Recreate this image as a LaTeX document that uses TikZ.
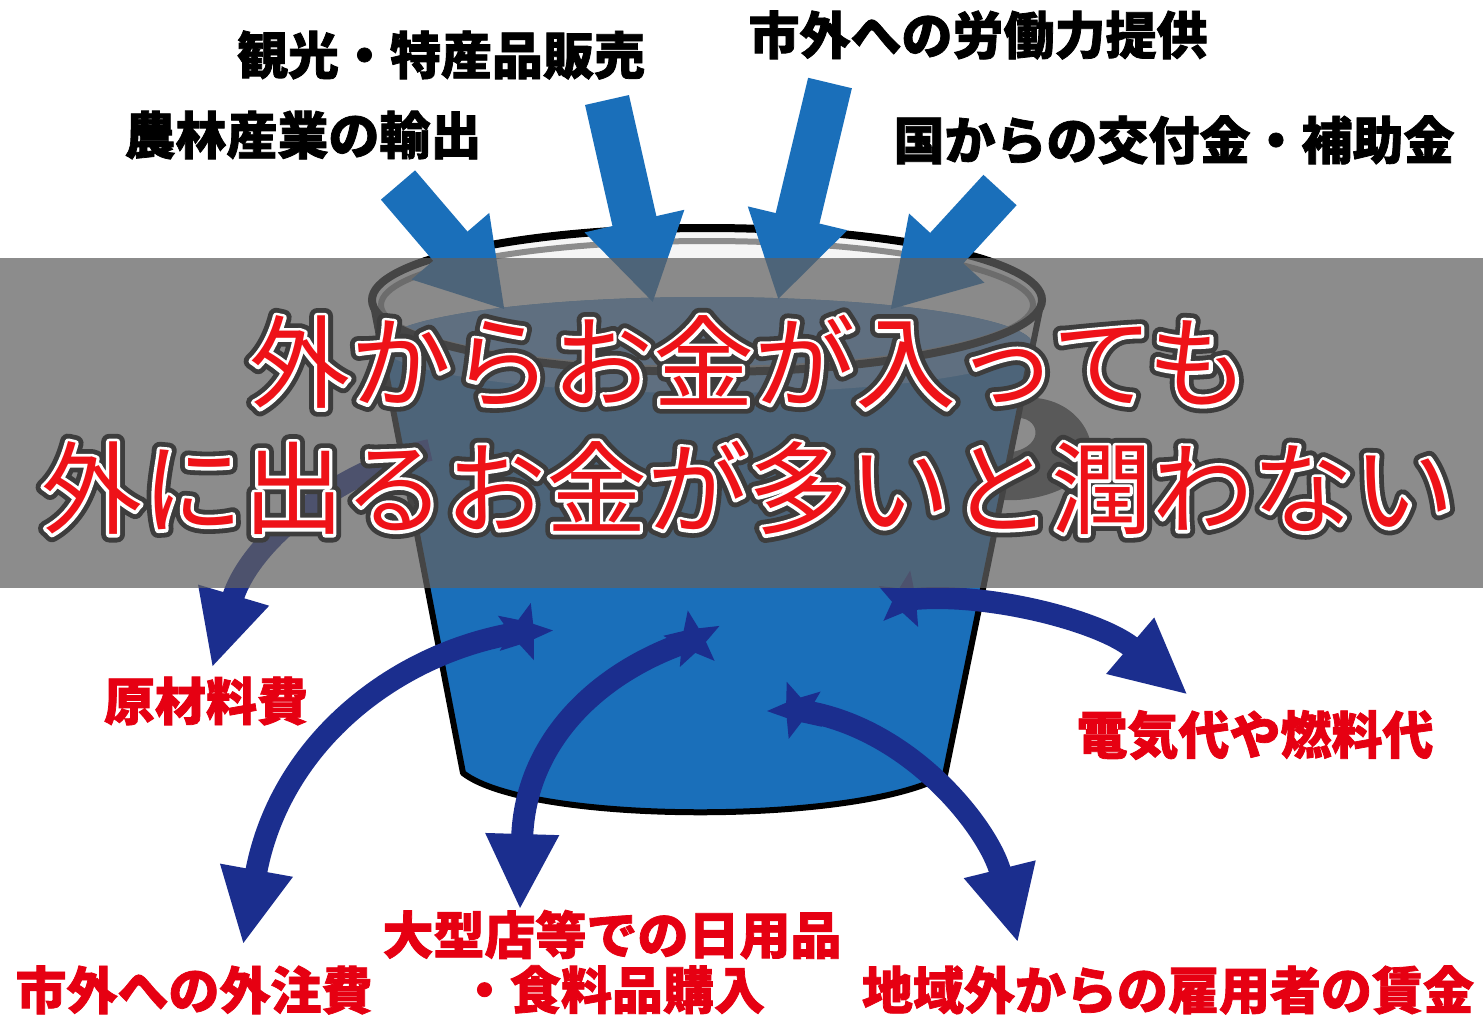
\documentclass[tikz,border=0pt]{standalone}
\usepackage{fontspec}
\usetikzlibrary{arrows.meta,shapes.geometric}

\newfontfamily\jp{Noto Sans CJK JP}
\newfontfamily\jpheavy{Noto Sans CJK JP}[FakeBold=1.5]

\definecolor{inblue}{RGB}{26,111,186}
\definecolor{navy}{RGB}{27,46,142}
\definecolor{labelred}{RGB}{230,0,18}
\definecolor{msgred}{RGB}{238,18,24}
\definecolor{halo}{RGB}{62,62,62}
\definecolor{surface}{RGB}{92,150,210}

% stroked text: #1 stroke width, #2 stroke colour (rgb), #3 text
\newcommand\strokedtext[3]{\special{pdf:literal direct 2 Tr #1 w 1 j 1 J #2 RG}#3\special{pdf:literal direct 0 Tr}}

\begin{document}
\begin{tikzpicture}[x=0.5pt, y=-0.5pt,
    inflow/.style={draw=inblue, line width=22.5pt, -{Triangle[length=42pt, width=48pt]}},
    outflow/.style={draw=navy, line width=11pt, -{Triangle[length=38pt, width=34pt]}},
    leak/.style={star, star points=5, star point ratio=2.3, fill=navy, minimum size=30pt, inner sep=0pt},
    income/.style={font=\jpheavy\bfseries\fontsize{25.5}{27.5}\selectfont, inner sep=0pt},
    expense/.style={income, text=labelred, align=center},
    message/.style={font=\jp\fontsize{50.5}{52}\selectfont, inner sep=0pt}]
  \useasboundingbox (0,0) rectangle (1483,1019);
  \fill[white] (0,0) rectangle (1483,1019);

  % bucket
  \fill[black!4] (707,300) ellipse [x radius=335, y radius=72];
  \fill[black!72, even odd rule] (1018,398) .. controls (1075,392) and (1102,440) .. (1088,468)
    .. controls (1072,492) and (1030,502) .. (1003,500) -- cycle
    (1014,418) .. controls (1040,415) and (1046,446) .. (1012,452) -- cycle;
  \fill[inblue] (381,345) -- (463,773) .. controls (530,825) and (860,825) .. (945,775)
    -- (1033,345) arc[start angle=0, end angle=-180, x radius=326, y radius=48] -- cycle;
  \fill[surface] (707,345) ellipse [x radius=326, y radius=48];
  \draw[line width=3pt, line join=round] (372,300) -- (463,773)
    .. controls (530,825) and (860,825) .. (945,775) -- (1042,300);
  \draw[black!45, line width=3pt] (707,305) ellipse [x radius=326, y radius=64];
  \draw[line width=4pt] (707,300) ellipse [x radius=335, y radius=72];

  % money coming in
  \coordinate (in1) at (398,185);   \coordinate (drop1) at (505,310);
  \coordinate (in2) at (607,100);   \coordinate (drop2) at (653,303);
  \coordinate (in3) at (830,83);    \coordinate (drop3) at (778,300);
  \coordinate (in4) at (1000,190);  \coordinate (drop4) at (890,310);
  \foreach \i in {1,...,4}
    \draw[inflow] (in\i) -- (drop\i);

  % money going out
  \coordinate (sA) at (430,450);
  \node[leak, rotate=-15] (sB) at (523,632) {};
  \node[leak, rotate=10]  (sC) at (693,640) {};
  \node[leak, rotate=20]  (sD) at (797,710) {};
  \node[leak, rotate=-10] (sE) at (905,600) {};
  \coordinate (tA) at (212,668);
  \coordinate (tB) at (243,945);
  \coordinate (tC) at (520,910);
  \coordinate (tD) at (1018,943);
  \coordinate (tE) at (1188,695);
  \draw[outflow] (sA) .. controls (340,470) and (250,540) .. (tA);
  \draw[outflow] (sB.center) .. controls (400,650) and (280,740) .. (tB);
  \draw[outflow] (sC.center) .. controls (600,670) and (525,740) .. (tC);
  \draw[outflow] (sD.center) .. controls (910,725) and (990,830) .. (tD);
  \draw[outflow] (sE.center) .. controls (980,590) and (1100,620) .. (tE);

  % band with the message: dark halo, white rim, red letters
  \fill[black!62, opacity=0.72] (0,258) rectangle (1483,588);
  \node[message, text=halo] (halo1) at (749,362) {\strokedtext{8}{0.24 0.24 0.24}{外からお金が入っても}};
  \node[message, text=halo] (halo2) at (748,488) {\strokedtext{8}{0.24 0.24 0.24}{外に出るお金が多いと潤わない}};
  \node[message, text=white] (rim1) at (749,362) {\strokedtext{3.2}{1 1 1}{外からお金が入っても}};
  \node[message, text=white] (rim2) at (748,488) {\strokedtext{3.2}{1 1 1}{外に出るお金が多いと潤わない}};
  \node[message, text=msgred] (msg1) at (749,362) {外からお金が入っても};
  \node[message, text=msgred] (msg2) at (748,488) {外に出るお金が多いと潤わない};

  % labels
  \node[income] (kanko) at (441,55) {観光・特産品販売};
  \node[income] (rodo) at (978,35) {市外への労働力提供};
  \node[income] (nourin) at (303,135) {農林産業の輸出};
  \node[income] (kofu) at (1174,140) {国からの交付金・補助金};
  \node[expense] (genzai) at (206,701) {原材料費};
  \node[expense] (denki) at (1255,735) {電気代や燃料代};
  \node[expense] (kouri) at (612,962) {大型店等での日用品\\・食料品購入};
  \node[expense] (gaichu) at (194,990) {市外への外注費};
  \node[expense] (chingin) at (1168,990) {地域外からの雇用者の賃金};
\end{tikzpicture}
\end{document}
